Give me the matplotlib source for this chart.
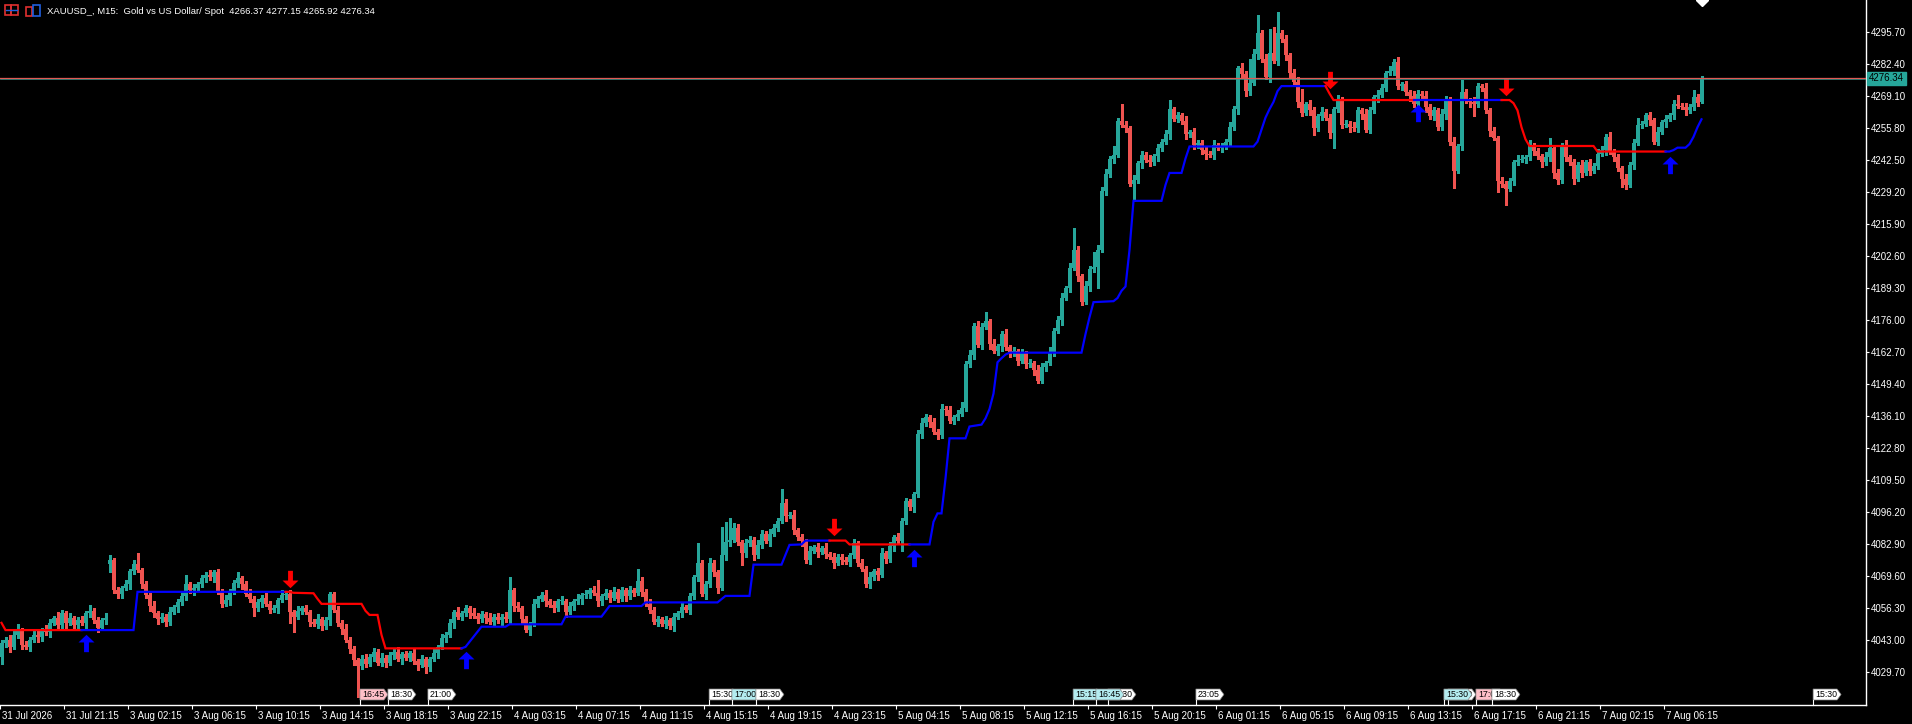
import numpy as np
import matplotlib.pyplot as plt
from matplotlib.path import Path
from matplotlib.patches import Polygon, Rectangle
from matplotlib.lines import Line2D
from matplotlib.transforms import offset_copy, blended_transform_factory, ScaledTranslation

W, H, DPI = 1912, 724, 100
plt.rcParams['font.family'] = ['Liberation Sans', 'DejaVu Sans']

header = "XAUUSD_, M15:  Gold vs US Dollar/ Spot  4266.37 4277.15 4265.92 4276.34"
last_price = 4276.34

# M15 closes, one per bar
closes = [
    4041.5, 4043, 4040, 4045, 4047, 4041, 4040, 4043, 4045, 4044,
    4047, 4046, 4050, 4052, 4049, 4054, 4050, 4052, 4049, 4051,
    4050, 4054, 4055, 4051, 4048, 4051, 4052, 4076, 4063.5, 4062,
    4064.5, 4066, 4071.5, 4074.5, 4072, 4066, 4061.5, 4057, 4054, 4051.5,
    4052.5, 4050.5, 4054.5, 4056.5, 4058.5, 4061, 4066, 4063.5, 4064.5, 4066,
    4068.5, 4070, 4069, 4071, 4063, 4058, 4059.5, 4063, 4066.5, 4068.5,
    4066, 4062, 4060, 4056, 4058.5, 4060.5, 4058, 4055.5, 4056, 4059.5,
    4061.5, 4062, 4054.5, 4052.5, 4055, 4056, 4054.5, 4050.5, 4049.5, 4051.5,
    4048.5, 4051, 4062, 4055.5, 4050, 4047.5, 4043, 4039, 4034.5, 4032,
    4035, 4033, 4036, 4038, 4033.5, 4035.5, 4033.5, 4036.5, 4038, 4035,
    4037, 4035.5, 4037.5, 4034, 4032.5, 4035, 4031.5, 4035, 4037.5, 4040,
    4043.5, 4045, 4050, 4054.5, 4052.5, 4054, 4056, 4054, 4053, 4051.5,
    4053.5, 4052, 4050.5, 4052.5, 4051, 4052.5, 4051.5, 4063.5, 4057, 4056,
    4051.5, 4047, 4049.5, 4058, 4060, 4061.5, 4059, 4057.5, 4056, 4059,
    4059, 4054.5, 4057, 4059, 4060, 4061.5, 4062, 4063.5, 4062.5, 4059,
    4061, 4062.5, 4060.5, 4063, 4060, 4063.5, 4061, 4063.5, 4062.5, 4067.5,
    4063, 4058, 4055.5, 4050.5, 4051.5, 4049.5, 4051, 4048.5, 4052.5, 4054,
    4056.5, 4055.5, 4061, 4069, 4075, 4062, 4066, 4075, 4071, 4064.5,
    4078, 4083.5, 4084.5, 4089.5, 4083.5, 4079, 4083, 4084.5, 4078, 4082.5,
    4087, 4084, 4087, 4089.5, 4092.5, 4100, 4094.5, 4095, 4088.5, 4085.5,
    4084, 4076, 4080, 4081.5, 4079.5, 4081, 4078.5, 4077.5, 4075, 4077.5,
    4076, 4075.5, 4078, 4083, 4075, 4072.5, 4066, 4069, 4071.5, 4070,
    4079, 4076.5, 4082, 4085.5, 4084, 4092.5, 4100.5, 4098, 4103.5, 4128.5,
    4133, 4135.5, 4133.5, 4129.5, 4128, 4139, 4138.5, 4134, 4135.5, 4137,
    4139.5, 4157.5, 4161.5, 4173.5, 4165.5, 4173, 4175.5, 4166, 4163, 4165,
    4170, 4164.5, 4162, 4163, 4159, 4162, 4157.5, 4158, 4155, 4150.5,
    4156.5, 4158, 4162.5, 4171.5, 4176, 4185, 4189, 4197.5, 4205, 4194,
    4183.5, 4190, 4197, 4198, 4205, 4229.5, 4236.5, 4243, 4244.5, 4258.5,
    4257, 4255.5, 4232.5, 4234, 4241, 4244.5, 4242.5, 4241.5, 4244, 4247.5,
    4250, 4253, 4263.5, 4259.5, 4261, 4258.5, 4253, 4254, 4248.5, 4249.5,
    4246.5, 4245, 4244.5, 4248.5, 4247.5, 4248, 4250, 4256, 4263.5, 4280.5,
    4278, 4271, 4274.5, 4286.5, 4295, 4284.5, 4277, 4287, 4283.5, 4295,
    4292.5, 4286, 4278.5, 4275, 4266.5, 4262, 4265.5, 4263, 4255.5, 4260.5,
    4262.5, 4260, 4253.5, 4263.5, 4267.5, 4257, 4257.5, 4256, 4255.5, 4263,
    4261.5, 4255, 4263, 4268.5, 4269.5, 4272.5, 4278.5, 4279.5, 4283, 4273,
    4273.8, 4270.5, 4269, 4265.5, 4270, 4269, 4264.5, 4260.5, 4263, 4256,
    4261.5, 4267.5, 4250, 4238, 4248, 4270.5, 4267, 4266.5, 4265.5, 4273,
    4272.5, 4263, 4254.5, 4251.5, 4233.5, 4232.5, 4230.5, 4233.5, 4241.5, 4242.5,
    4243, 4243.5, 4248.5, 4246, 4244, 4241.5, 4243.5, 4247.5, 4237, 4234,
    4248.5, 4243.5, 4241.5, 4234.5, 4240.5, 4237, 4241.5, 4238, 4240, 4245,
    4246.5, 4252, 4246, 4243.5, 4239, 4234.5, 4232, 4240.5, 4249.5, 4257,
    4257.5, 4261, 4259, 4250, 4254, 4258, 4259.5, 4261, 4265.5, 4265,
    4264.5, 4263, 4264.5, 4268.5, 4266, 4276.34,
]
# bars whose open is not the previous close (weekend gap, last bar)
open_gaps = {27: 4074.5, 425: 4266.37}

up_wick = [
    1.5, 1, 2, 1.5, 2.5, 1, 1.5, 1, 2, 1.5,
    1, 2, 1.5, 1, 2.5, 1.5, 1, 2, 1, 1.5,
    2, 1, 2.5, 1, 1.5, 1, 2, 2, 1, 1.5,
    1, 2, 1, 1.5, 4.5, 1, 1.5, 1, 2, 1,
    1.5, 1, 2, 1, 1.5, 2, 4, 1, 1.5, 1,
    1.5, 1, 2, 1, 1.5, 1, 2, 1, 1.5, 2.5,
    1, 1.5, 2, 1, 1.5, 1, 2, 1, 1.5, 1,
    2, 1, 1.5, 1, 2, 1, 1.5, 1, 1, 2,
    1, 1.5, 1, 1, 1.5, 1, 2, 1, 1.5, 1,
    1.5, 2, 1, 1.5, 1, 2, 1, 1.5, 1, 2,
    1, 1.5, 1, 2, 1, 1.5, 1, 1, 1.5, 1,
    2, 1, 1.5, 1, 2, 1, 1.5, 1, 2, 1,
    1.5, 1, 2, 1, 1.5, 1, 2, 5.5, 1, 1.5,
    1, 1.5, 1, 2, 1, 1.5, 2, 1, 1.5, 1,
    2, 1, 1.5, 1, 2, 1, 1.5, 1, 2, 5.5,
    1, 1.5, 1, 2, 1, 1.5, 1, 2, 1, 5,
    1.5, 1, 2, 1, 1.5, 1, 2, 1, 1.5, 1,
    2, 1, 1.5, 1, 8, 1, 1.5, 2, 1, 1,
    12, 8.5, 9, 2, 1.5, 1, 2, 1.5, 1, 2,
    1.5, 1, 2, 1.5, 1, 5.7, 1.5, 1, 2, 1,
    1.5, 1, 2, 1, 1.5, 1, 2, 1, 1.5, 1,
    1, 1.5, 1, 2, 1, 1.5, 1, 2, 1, 1.5,
    2, 1, 1.5, 1, 2, 1, 1.5, 1, 1, 1.5,
    2, 1.5, 1, 1.5, 1, 2, 1, 1.5, 1, 1.5,
    2.5, 1.5, 2, 1, 2, 1.5, 3.5, 1, 2, 1,
    1.5, 2, 1, 1.5, 1, 2, 1, 1.5, 1, 2,
    1.5, 1, 2, 1, 1.5, 2, 1, 2, 9, 1.5,
    1, 2, 1.5, 6, 2, 1.5, 2, 1, 3.5, 1.5,
    7, 1.5, 1, 2, 1, 1.5, 1, 2, 1, 1.5,
    1, 2, 4, 1, 1.5, 1, 2, 1, 1.5, 1,
    1, 1.5, 1, 2, 1, 1.5, 1, 2, 1.5, 1,
    2, 1.5, 10, 2, 7.6, 1.5, 2, 10, 10.8, 9,
    1.5, 2, 1, 1.5, 2, 5.5, 1, 2, 1.5, 1,
    2, 1, 1.5, 1, 2, 1, 1.5, 1, 2, 1.5,
    1, 2, 1.5, 1, 2, 1.5, 1, 2, 1.5, 2,
    1, 1.5, 1, 2, 1.5, 1, 2, 1, 1.5, 1,
    2, 1.5, 1, 2, 1, 5, 1.5, 1, 2, 1.5,
    1, 2, 1, 1.5, 1, 2, 1, 1.5, 1, 2,
    1.5, 1, 2, 1, 1.5, 1, 2, 4, 1, 1.5,
    1, 2, 1, 1.5, 1, 2, 1, 1.5, 1, 2,
    1.5, 1, 2, 1, 1.5, 1, 2, 1, 1.5, 2.7,
    1, 1, 1.5, 1, 2, 1, 1.5, 1, 2, 4,
    1, 1.5, 1, 3, 1.5, 0.81,
]
dn_wick = [
    3, 1.5, 2, 1, 1.5, 2, 1, 1.5, 1, 2,
    1.5, 1, 2, 1, 1.5, 1, 2, 1, 1.5, 1,
    1, 2, 1.5, 1, 2, 1, 1.5, 3.5, 1, 1.5,
    1.5, 1, 2, 1, 1, 1.5, 1, 2, 1.5, 2,
    1, 2, 1.5, 1, 2, 1, 1.5, 1, 2, 1,
    1, 1.5, 1, 2, 1, 1.5, 1, 2, 1, 1.5,
    2, 1, 1.5, 3, 1, 2, 1, 1.5, 1, 2,
    1, 1.5, 4.5, 6.5, 1, 1.5, 1, 2, 1, 1.5,
    1.5, 1, 2, 1, 1.5, 2, 1, 1.5, 2, 12.7,
    1, 1.5, 1, 2, 1, 1.5, 2, 1, 1.5, 1,
    2, 1, 1.5, 1, 2, 1, 2.5, 1.5, 1, 2,
    1, 1.5, 1, 2, 1, 1.5, 1, 2, 1, 1.5,
    1, 2, 1, 1.5, 1, 2, 1, 1.5, 2, 1,
    1.5, 1, 2, 1, 1.5, 1, 2, 1, 1.5, 1,
    1, 2, 1, 1.5, 1, 2, 1, 1.5, 1, 2,
    1.5, 1, 2, 1, 1.5, 1, 2, 1, 1.5, 1,
    2, 1, 1.5, 1, 2, 1, 1.5, 1, 2, 1,
    1.5, 1, 2, 1, 1.5, 1, 2, 1, 1.5, 2,
    1, 2, 1.5, 1, 1, 5, 1.5, 1, 2, 1,
    1.5, 1, 2, 1, 1.5, 1, 2, 1, 1.5, 1,
    2, 1, 1.5, 1, 2, 1, 1.5, 1, 2, 1,
    1.5, 1, 2, 1, 1.5, 1, 1, 1.5, 1, 2,
    1, 1.5, 1, 2, 1, 4, 1.5, 1, 2, 1,
    1.5, 1, 2, 1, 1.5, 1, 2, 1, 1.5, 1,
    1, 1.5, 1, 2, 1, 1.5, 1, 2, 1, 1.5,
    2, 1, 1.5, 1, 2, 1, 1.5, 1, 2, 1,
    1, 2, 1, 1.5, 1, 2, 1, 1.5, 1, 2,
    1.5, 1, 2, 1, 9, 1, 1.5, 1, 2, 1,
    1, 1.5, 1, 7, 1, 2, 1, 1.5, 1, 2,
    1.5, 1, 2, 1, 1.5, 1, 2, 1, 1.5, 1,
    1.5, 2, 1, 1.5, 1, 2, 1, 1.5, 1, 2,
    1, 2, 1.5, 1, 2, 1.5, 1, 2, 1, 1.5,
    1, 2, 1.5, 1, 2, 1.5, 1, 2, 2.7, 1,
    1.5, 1, 2, 6, 1, 1.5, 1, 2, 1, 1.5,
    2, 1, 1.5, 1, 2, 1, 1.5, 1, 2, 1,
    1.5, 1, 2, 1, 1.5, 1, 2, 1, 1.5, 1,
    1, 2, 1.5, 7.4, 1, 1.5, 1, 2, 5, 1,
    1.5, 1, 2, 1, 4.3, 1.5, 6.8, 1, 1.5, 1,
    1, 2, 1, 1.5, 1, 2, 1, 1.5, 2, 1.5,
    1, 1.5, 1, 2, 1, 1.5, 1, 2, 1, 1.5,
    1, 2, 1, 1.5, 1, 3.2, 1.5, 1, 2, 1,
    1.5, 1, 2, 1, 1.5, 1, 2, 1, 1.5, 1,
    1, 2, 1, 1.5, 1, 0.45,
]

# trailing stop indicator (bar, level) breakpoints
trail_bars = [0, 1, 33, 34, 72, 73, 78, 79, 80, 90, 91, 92, 94, 95, 96, 115, 116, 120, 126, 127,
              140, 141, 150, 152, 160, 161, 179, 181, 187, 188, 195, 197, 200, 201, 211, 212, 232, 233, 234, 235,
              236, 237, 241, 242, 245, 246, 247, 248, 249, 250, 251, 252, 270, 271, 272, 273, 278, 279, 280, 281,
              282, 283, 290, 291, 292, 295, 296, 297, 313, 314, 315, 316, 317, 318, 319, 320, 331, 332, 333, 375,
              377, 378, 379, 380, 381, 382, 398, 399, 417, 418, 419, 421, 422, 423, 424, 425]
trail_levels = [4050.0, 4047.0, 4047.0, 4062.9, 4062.9, 4062.5, 4062.3, 4060.0, 4057.9, 4057.9,
                4055.0, 4053.3, 4053.3, 4045.0, 4039.4, 4039.4, 4040.0, 4048.4, 4048.4, 4049.4,
                4049.4, 4052.6, 4052.6, 4057.0, 4057.0, 4058.5, 4058.5, 4061.2, 4061.2, 4074.2,
                4074.2, 4082.4, 4082.6, 4084.2, 4084.2, 4082.6, 4082.6, 4092.0, 4095.5, 4095.5,
                4110.0, 4126.7, 4126.7, 4131.6, 4132.4, 4135.0, 4138.9, 4145.3, 4158.3, 4160.0,
                4161.5, 4162.3, 4162.3, 4170.0, 4177.0, 4183.3, 4183.7, 4185.0, 4188.0, 4189.8,
                4205.0, 4225.4, 4225.4, 4232.0, 4237.0, 4237.0, 4243.0, 4248.0, 4248.0, 4250.0,
                4255.0, 4260.0, 4263.5, 4266.5, 4271.0, 4273.1, 4273.1, 4270.0, 4267.3, 4267.3,
                4267.3, 4266.0, 4263.0, 4256.0, 4251.0, 4248.2, 4248.2, 4245.9, 4245.9, 4246.5,
                4247.5, 4247.5, 4249.0, 4252.0, 4256.0, 4259.3]
up_arrows = [21, 116, 228, 354, 417]
down_arrows = [72, 208, 332, 376]

y_ticks = [4029.70, 4043.00, 4056.30, 4069.60, 4082.90, 4096.20, 4109.50, 4122.80, 4136.10, 4149.40,
           4162.70, 4176.00, 4189.30, 4202.60, 4215.90, 4229.20, 4242.50, 4255.80, 4269.10, 4282.40, 4295.70]
x_tick_bars = [0, 16, 32, 48, 64, 80, 96, 112, 128, 144, 160, 176, 192, 208, 224, 240, 256, 272,
               288, 304, 320, 336, 352, 368, 384, 400, 416]
x_tick_labels = ["31 Jul 2026", "31 Jul 21:15", "3 Aug 02:15", "3 Aug 06:15", "3 Aug 10:15", "3 Aug 14:15",
                 "3 Aug 18:15", "3 Aug 22:15", "4 Aug 03:15", "4 Aug 07:15", "4 Aug 11:15", "4 Aug 15:15",
                 "4 Aug 19:15", "4 Aug 23:15", "5 Aug 04:15", "5 Aug 08:15", "5 Aug 12:15", "5 Aug 16:15",
                 "5 Aug 20:15", "6 Aug 01:15", "6 Aug 05:15", "6 Aug 09:15", "6 Aug 13:15", "6 Aug 17:15",
                 "6 Aug 21:15", "7 Aug 02:15", "7 Aug 06:15"]

# calendar event tags along the time axis (bar position, time, kind), drawn in this order
events = [(89.6, "16:45", "high"), (96.6, "18:30", "low"), (106.6, "21:00", "low"),
          (176.9, "15:30", "low"), (182.6, "17:00", "mid"), (188.6, "18:30", "low"),
          (267.9, "15:15", "mid"), (276.6, "18:30", "low"), (273.6, "16:45", "mid"),
          (298.6, "23:05", "low"),
          (361.6, "16:00", "low"), (360.6, "15:30", "mid"), (368.6, "17:00", "high"), (372.6, "18:30", "low"),
          (452.9, "15:30", "low")]
event_colors = {"high": "#ffc0c8", "mid": "#b4ecf0", "low": "#ffffff"}

UP, DOWN = "#26a69a", "#ef5350"
assert len(closes) == len(up_wick) == len(dn_wick)

n = len(closes)
x = np.arange(n)
c = np.array(closes, float)
o = np.concatenate([[c[0] - 5.5], c[:-1]])
for k, v in open_gaps.items():
    o[k] = v
hi = np.maximum(o, c) + np.array(up_wick)
lo = np.minimum(o, c) - np.array(dn_wick)
col = np.where(c >= o, UP, DOWN)

fig = plt.figure(figsize=(W / DPI, H / DPI), dpi=DPI, facecolor="black")
ax = fig.add_axes([0, 19 / H, 1866 / W, 705 / H])
ax.set_facecolor("black")
ax.set_xlim(-0.375, 466.125)
ax.set_ylim(4015.86, 4308.88)

ax.vlines(x, lo, hi, colors=col, linewidth=0.75, antialiased=False, zorder=2)
body = np.maximum(np.abs(c - o), 0.35)
ax.bar(x, body, bottom=np.minimum(o, c), width=0.75, color=col, linewidth=0, antialiased=False, zorder=3)

# trailing stop, coloured by side
tb = np.array(trail_bars, float)
tl = np.array(trail_levels, float)
flips = sorted(b - 1 for b in up_arrows + down_arrows)
edges = [0] + flips + [n - 1]
for k in range(len(edges) - 1):
    a, b = edges[k], edges[k + 1]
    inside = (tb > a) & (tb < b)
    xs = np.concatenate([[a], tb[inside], [b]])
    ax.plot(xs, np.interp(xs, tb, tl), color="#ff0000" if k % 2 == 0 else "#0000ff",
            linewidth=1.6, solid_joinstyle="miter", zorder=4)

arrow = Path([(0, 0.5), (0.46, 0.06), (0.14, 0.06), (0.14, -0.5), (-0.14, -0.5), (-0.14, 0.06),
              (-0.46, 0.06), (0, 0.5)],
             [Path.MOVETO] + [Path.LINETO] * 6 + [Path.CLOSEPOLY])
arrow_dn = Path(arrow.vertices * [1, -1], arrow.codes)
tr_up = offset_copy(ax.transData, fig=fig, y=-9.5, units="points")
tr_dn = offset_copy(ax.transData, fig=fig, y=9.5, units="points")
for b in up_arrows:
    ax.plot(b, np.interp(b, tb, tl), marker=arrow, markersize=12.5, color="#0000ff", mew=0,
            transform=tr_up, zorder=5)
for b in down_arrows:
    ax.plot(b, np.interp(b, tb, tl), marker=arrow_dn, markersize=12.5, color="#ff0000", mew=0,
            transform=tr_dn, zorder=5)

# bid / ask lines
ax.axhline(last_price + 0.3, color="#e05a55", linewidth=0.9, zorder=6)
ax.axhline(last_price - 0.15, color="#3e9a90", linewidth=0.5, zorder=6)
ax.plot(n - 1, 4308.88, marker="D", markersize=6, color="white", zorder=7)

# axes styling
for s in ("top", "left"):
    ax.spines[s].set_visible(False)
for s in ("right", "bottom"):
    ax.spines[s].set_color("white")
    ax.spines[s].set_linewidth(1)
ax.yaxis.tick_right()
ax.set_yticks(y_ticks)
ax.set_yticklabels([f"{v:.2f}" for v in y_ticks])
ax.tick_params(axis="y", colors="white", length=2.5, width=0.8, pad=1, labelsize=7)
ax.set_xticks(np.array(x_tick_bars) - 0.375)
ax.set_xticklabels(x_tick_labels, ha="left")
ax.tick_params(axis="x", colors="white", length=3, width=0.8, pad=1.5, labelsize=7)
shift = ScaledTranslation(2 / DPI, 0, fig.dpi_scale_trans)
for lab in ax.get_xticklabels():
    lab.set_transform(lab.get_transform() + shift)

# current price tag on the scale
yt = blended_transform_factory(ax.transAxes, ax.transData)
ax.text(1.0015, last_price, f"{last_price:.2f}", transform=yt, ha="left", va="center", fontsize=7,
        color="black", clip_on=False, zorder=8,
        bbox=dict(boxstyle="square,pad=0.18", facecolor="#26a69a", edgecolor="#26a69a"))

# event tags (display pixel coordinates, origin bottom-left)
for i, (b, t, kind) in enumerate(events):
    x0 = ax.transData.transform((b, 4100))[0]
    z = 10 + i
    ybot, ytop = H - 700, H - 689
    poly = Polygon([(x0, ybot), (x0 + 24, ybot), (x0 + 28, (ybot + ytop) / 2), (x0 + 24, ytop), (x0, ytop)],
                   closed=True, transform=None, facecolor=event_colors[kind], edgecolor="#808080",
                   linewidth=0.5, zorder=z)
    fig.add_artist(poly)
    fig.add_artist(Line2D([x0, x0], [H - 705, ybot], color="white", linewidth=0.8, transform=None, zorder=z))
    fig.text((x0 + 2) / W, (ybot + ytop) / 2 / H, t, fontsize=6.3, color="black", ha="left", va="center",
             zorder=z)

# header with the two small chart icons
def icon_rect(x0, y0, w, h, color):
    fig.add_artist(Rectangle((x0, H - y0 - h), w, h, transform=None, fill=False, edgecolor=color,
                             linewidth=1.2))

icon_rect(5, 5, 6, 10, "#e03030")
icon_rect(11, 5, 7, 10, "#e03030")
fig.add_artist(Line2D([6, 17], [H - 10, H - 10], color="#2060e0", linewidth=1, transform=None))
icon_rect(26, 7, 6, 9, "#e03030")
icon_rect(33, 5, 7, 11, "#2060e0")
fig.text(47 / W, 1 - 11 / H, header, color="white", fontsize=6.8, ha="left", va="center")

fig.savefig("out.png", dpi=DPI, facecolor="black")
